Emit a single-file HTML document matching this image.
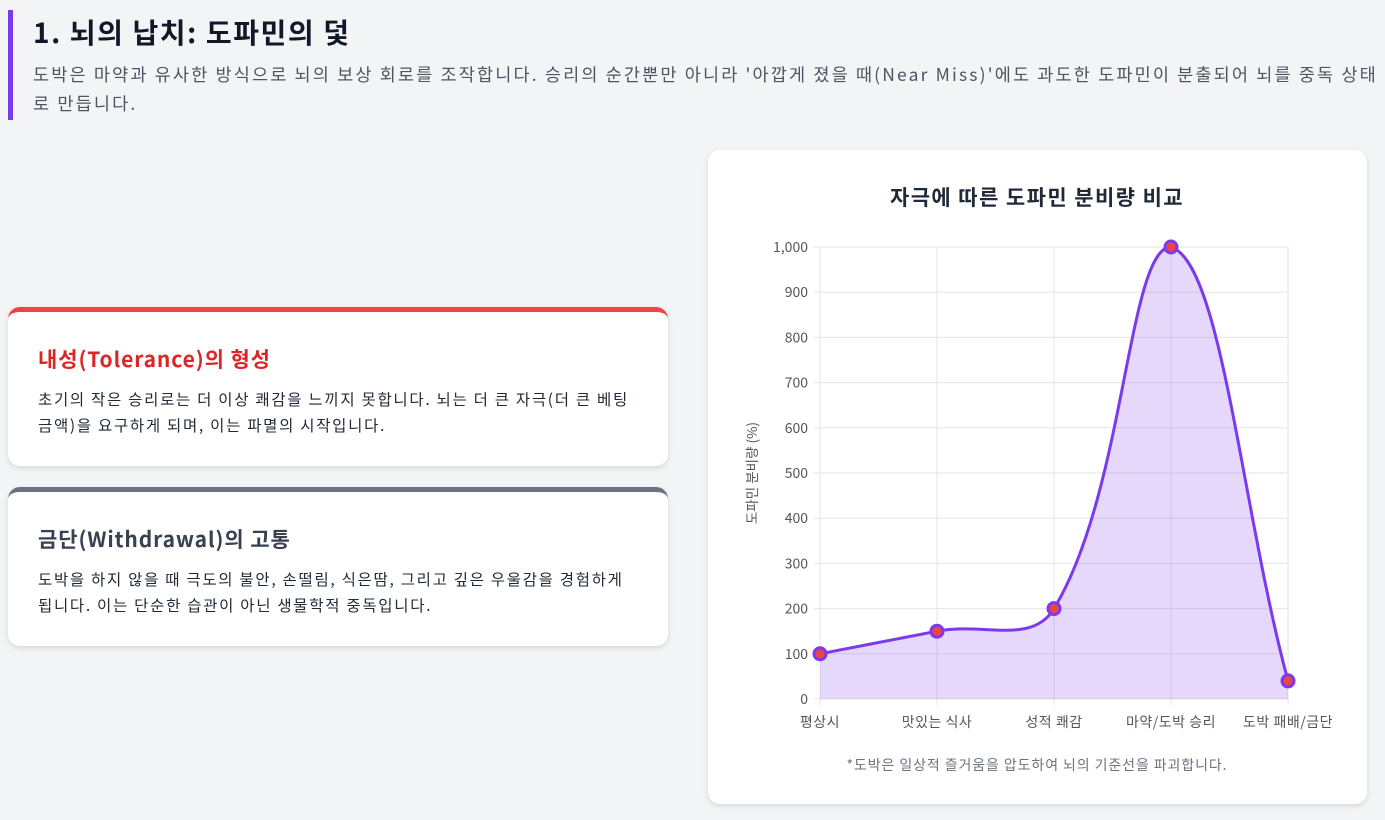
<!DOCTYPE html>
<html><head><meta charset="utf-8">
<style>
*{box-sizing:border-box;margin:0;padding:0}
body{width:1385px;height:820px;background:#f3f4f6;font-family:"Noto Sans CJK KR","Liberation Sans",sans-serif;position:relative;overflow:hidden;color:#1f2937;word-break:keep-all}
.hdr{position:absolute;left:8px;top:10px;width:1377px;height:110px;border-left:5px solid #7c3aed;padding-left:20px;padding-right:0}
.hdr h1{font-size:28px;font-weight:700;color:#111827;margin-top:2px;line-height:40px;letter-spacing:1.6px}
.hdr p{font-size:17.5px;color:#4b5563;line-height:29px;margin-top:8px;letter-spacing:2.15px;white-space:nowrap}
.card{position:absolute;left:8px;width:660px;background:#fff;border-radius:12px;box-shadow:0 2px 6px rgba(0,0,0,.12);padding:32px 30px}
.card h3{font-size:21px;font-weight:700;margin-bottom:12px;line-height:30px;letter-spacing:0.9px}
.card p{font-size:15.5px;line-height:26px;color:#1f2937;letter-spacing:1.7px}
.chartcard{position:absolute;left:708px;top:150px;width:659px;height:654px;background:#fff;border-radius:12px;box-shadow:0 2px 6px rgba(0,0,0,.12)}
</style></head><body>
<div class="hdr">
<h1>1. 뇌의 납치: 도파민의 덫</h1>
<p>도박은 마약과 유사한 방식으로 뇌의 보상 회로를 조작합니다. 승리의 순간뿐만 아니라 '아깝게 졌을 때(Near Miss)'에도 과도한 도파민이 분출되어 뇌를 중독 상태<br>로 만듭니다.</p>
</div>
<div class="card" style="top:307px;height:159px;border-top:5px solid #ef4444">
<h3 style="color:#dc2626">내성(Tolerance)의 형성</h3>
<p>초기의 작은 승리로는 더 이상 쾌감을 느끼지 못합니다. 뇌는 더 큰 자극(더 큰 베팅 금액)을 요구하게 되며, 이는 파멸의 시작입니다.</p>
</div>
<div class="card" style="top:487px;height:159px;border-top:5px solid #6b7280">
<h3 style="color:#374151">금단(Withdrawal)의 고통</h3>
<p>도박을 하지 않을 때 극도의 불안, 손떨림, 식은땀, 그리고 깊은 우울감을 경험하게 됩니다. 이는 단순한 습관이 아닌 생물학적 중독입니다.</p>
</div>
<div class="chartcard"></div>
<svg id="chart" width="1385" height="820" style="position:absolute;left:0;top:0"></svg>
<script>
const categories=["평상시","맛있는 식사","성적 쾌감","마약/도박 승리","도박 패배/금단"];
const values=[100,150,200,1000,40];
const yTicks=[0,100,200,300,400,500,600,700,800,900,1000];
const svg=document.getElementById('chart');
const NS='http://www.w3.org/2000/svg';
const FF='Noto Sans CJK KR, Liberation Sans, sans-serif';
const L=820,R=1288,T=247,B=699;
const xs=i=>L+(R-L)*i/(categories.length-1);
const ys=v=>B-(B-T)*v/1000;
function mk(t,a,txt){const e=document.createElementNS(NS,t);for(const k in a)e.setAttribute(k,a[k]);if(txt!=null)e.textContent=txt;svg.appendChild(e);return e;}
const ttl=mk('text',{x:1037,y:205,'text-anchor':'middle','font-size':21,'font-weight':700,fill:'#1f2937','font-family':FF,'letter-spacing':1.4},'자극에 따른 도파민 분비량 비교');


yTicks.forEach(v=>{
 const g=mk('line',{x1:L-6,x2:R,y1:ys(v),y2:ys(v),stroke:'#e5e5e5'});
 
 
 const t=mk('text',{x:L-12,y:ys(v)+5,'text-anchor':'end','font-size':14,fill:'#555','font-family':FF},v.toLocaleString('en-US'));
 
 
});
categories.forEach((c,i)=>{
 const g=mk('line',{x1:xs(i),x2:xs(i),y1:T,y2:B+6,stroke:'#e5e5e5'});
 
 
 const t=mk('text',{x:xs(i),y:B+28,'text-anchor':'middle','font-size':14,fill:'#555','font-family':FF,'letter-spacing':0.5},c);
 
 
});
const yl=mk('text',{x:0,y:0,transform:'translate(757,473) rotate(-90)','text-anchor':'middle','font-size':13.5,fill:'#555','font-family':FF},'도파민 분비량 (%)');


const pts=values.map((v,i)=>({x:xs(i),y:ys(v)}));
const cps=pts.map((p,i)=>{
 const pr=pts[i-1]||p,nx=pts[i+1]||p,t=0.4;
 const d01=Math.hypot(p.x-pr.x,p.y-pr.y),d12=Math.hypot(nx.x-p.x,nx.y-p.y);
 let s01=d01/(d01+d12)||0,s12=d12/(d01+d12)||0;
 const fa=t*s01,fb=t*s12;
 const cl=(x,a,b)=>Math.max(a,Math.min(b,x));
 return {px:cl(p.x-fa*(nx.x-pr.x),L,R),py:cl(p.y-fa*(nx.y-pr.y),T,B),nx:cl(p.x+fb*(nx.x-pr.x),L,R),ny:cl(p.y+fb*(nx.y-pr.y),T,B)};
});
let d='M'+pts[0].x+','+pts[0].y;
for(let i=1;i<pts.length;i++)d+=` C${cps[i-1].nx},${cps[i-1].ny} ${cps[i].px},${cps[i].py} ${pts[i].x},${pts[i].y}`;
const area=mk('path',{d:d+` L${R},${B} L${L},${B} Z`,fill:'rgba(124,58,237,0.2)'});


const line=mk('path',{d:d,fill:'none',stroke:'#7c3aed','stroke-width':3});


pts.forEach(p=>{
 const c=mk('circle',{cx:p.x,cy:p.y,r:6,fill:'#ef4444',stroke:'#7c3aed','stroke-width':3});
 
 
});
const fn=mk('text',{x:1037,y:770,'text-anchor':'middle','font-size':14,fill:'#6b7280','font-family':FF,'letter-spacing':0.9},'*도박은 일상적 즐거움을 압도하여 뇌의 기준선을 파괴합니다.');


</script>
</body></html>
